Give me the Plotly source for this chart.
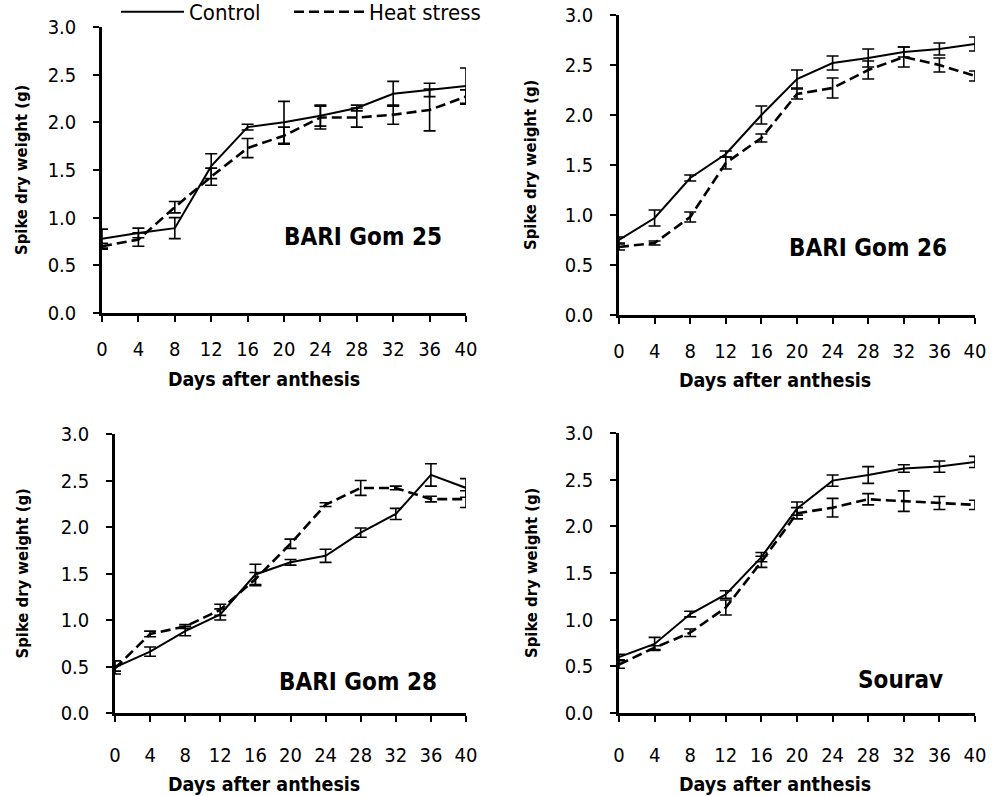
import plotly.graph_objects as go

days = [0, 4, 8, 12, 16, 20, 24, 28, 32, 36, 40]
x_ticks = [0, 4, 8, 12, 16, 20, 24, 28, 32, 36, 40]
y_ticks = [0.0, 0.5, 1.0, 1.5, 2.0, 2.5, 3.0]

panel_names = ["BARI Gom 25", "BARI Gom 26", "BARI Gom 28", "Sourav"]

# BARI Gom 25
g25_control = [0.78, 0.84, 0.89, 1.54, 1.95, 2.00, 2.07, 2.15, 2.30, 2.34, 2.38]
g25_control_err = [0.10, 0.05, 0.11, 0.13, 0.03, 0.22, 0.11, 0.03, 0.13, 0.07, 0.19]
g25_heat = [0.70, 0.77, 1.11, 1.43, 1.73, 1.86, 2.05, 2.05, 2.08, 2.13, 2.27]
g25_heat_err = [0.03, 0.07, 0.06, 0.09, 0.10, 0.09, 0.12, 0.10, 0.10, 0.22, 0.07]

# BARI Gom 26
g26_control = [0.75, 0.97, 1.37, 1.61, 2.00, 2.36, 2.52, 2.57, 2.63, 2.66, 2.71]
g26_control_err = [0.03, 0.08, 0.03, 0.03, 0.09, 0.09, 0.07, 0.09, 0.05, 0.06, 0.07]
g26_heat = [0.68, 0.72, 0.98, 1.52, 1.77, 2.21, 2.27, 2.45, 2.58, 2.50, 2.39]
g26_heat_err = [0.03, 0.02, 0.05, 0.06, 0.04, 0.05, 0.10, 0.09, 0.10, 0.07, 0.05]

# BARI Gom 28
g28_control = [0.49, 0.66, 0.88, 1.06, 1.49, 1.62, 1.69, 1.94, 2.14, 2.56, 2.42]
g28_control_err = [0.07, 0.05, 0.05, 0.06, 0.11, 0.03, 0.07, 0.05, 0.06, 0.12, 0.10]
g28_heat = [0.48, 0.85, 0.93, 1.11, 1.44, 1.82, 2.24, 2.42, 2.42, 2.30, 2.30]
g28_heat_err = [0.03, 0.03, 0.02, 0.06, 0.07, 0.05, 0.02, 0.08, 0.02, 0.03, 0.09]

# Sourav
sou_control = [0.60, 0.74, 1.06, 1.27, 1.67, 2.19, 2.49, 2.55, 2.62, 2.64, 2.69]
sou_control_err = [0.03, 0.07, 0.03, 0.04, 0.05, 0.07, 0.06, 0.09, 0.04, 0.06, 0.06]
sou_heat = [0.52, 0.70, 0.86, 1.13, 1.62, 2.14, 2.20, 2.29, 2.27, 2.25, 2.23]
sou_heat_err = [0.04, 0.02, 0.04, 0.08, 0.06, 0.06, 0.10, 0.06, 0.11, 0.07, 0.05]

panels = [
    (g25_control, g25_control_err, g25_heat, g25_heat_err),
    (g26_control, g26_control_err, g26_heat, g26_heat_err),
    (g28_control, g28_control_err, g28_heat, g28_heat_err),
    (sou_control, sou_control_err, sou_heat, sou_heat_err),
]

W, H = 995, 796
FONT = "DejaVu Sans Condensed, DejaVu Sans, sans-serif"

# plot-area boxes in pixels, order TL, TR, BL, BR: (x0, x1, ytop, ybottom)
boxes = [(102, 466, 27, 313), (619, 975, 15, 315), (115, 466, 434, 713), (619, 975, 433, 713)]
ytitle_x = [22, 531, 22, 531]
xlabel_standoff = [10, 10, 16, 16]
xtitle_offset = [66, 66, 71, 71]
xtitle_cx = [264, 775, 264, 775]

fig = go.Figure()
layout = dict(width=W, height=H, margin=dict(l=0, r=0, t=0, b=0, autoexpand=False),
              plot_bgcolor="white", paper_bgcolor="white",
              font=dict(family=FONT, color="black", size=20))

annotations = []
for i, ((c, ce, h, he), (x0, x1, yt, yb)) in enumerate(zip(panels, boxes)):
    n = "" if i == 0 else str(i + 1)
    xa, ya = "x" + n, "y" + n
    fig.add_trace(go.Scatter(
        x=days, y=c, mode="lines", name="Control", xaxis=xa, yaxis=ya,
        line=dict(color="black", width=2), showlegend=(i == 0), legend="legend",
        cliponaxis=False,
        error_y=dict(type="data", array=ce, visible=True, color="black", thickness=1.6, width=6)))
    fig.add_trace(go.Scatter(
        x=days, y=h, mode="lines", name="Heat stress", xaxis=xa, yaxis=ya,
        line=dict(color="black", width=2.6, dash="10px,5px"), showlegend=(i == 0), legend="legend2",
        cliponaxis=False,
        error_y=dict(type="data", array=he, visible=True, color="black", thickness=1.6, width=6)))
    axis_common = dict(showline=True, linecolor="black", linewidth=2.5, ticks="outside",
                       tickcolor="black", tickwidth=2, ticklen=6, showgrid=False, zeroline=False,
                       tickfont=dict(family=FONT, size=20, color="black"))
    layout["xaxis" + n] = dict(domain=[x0 / W, x1 / W], range=[0, 40], tickvals=x_ticks,
                               ticklabelstandoff=xlabel_standoff[i], anchor=ya, **axis_common)
    layout["yaxis" + n] = dict(domain=[1 - yb / H, 1 - yt / H], range=[0, 3], tickvals=y_ticks,
                               tickformat=".1f", ticklabelstandoff=13, anchor=xa, **axis_common)
    # axis titles
    annotations.append(dict(text="<b>Days after anthesis</b>", xref="paper", yref="paper",
                            x=xtitle_cx[i] / W, y=1 - (yb + xtitle_offset[i]) / H, showarrow=False,
                            font=dict(family=FONT, size=19.5), xanchor="center", yanchor="middle"))
    annotations.append(dict(text="<b>Spike dry weight (g)</b>", xref="paper", yref="paper",
                            x=ytitle_x[i] / W, y=1 - ((yt + yb) / 2) / H, showarrow=False, textangle=-90,
                            font=dict(family=FONT, size=16.5), xanchor="center", yanchor="middle"))

label_pos = [(363, 237), (868, 248), (358, 682), (900, 680)]
for name, (lx, ly) in zip(panel_names, label_pos):
    annotations.append(dict(text="<b>" + name + "</b>", xref="paper", yref="paper",
                            x=lx / W, y=1 - ly / H, showarrow=False,
                            font=dict(family=FONT, size=24), xanchor="center", yanchor="middle"))

layout["annotations"] = annotations
legend_common = dict(orientation="h", yanchor="top", xanchor="left",
                     font=dict(family=FONT, size=22), bgcolor="rgba(0,0,0,0)")
layout["legend"] = dict(x=116 / W, y=1 + 9 / H, itemwidth=63, **legend_common)
layout["legend2"] = dict(x=289 / W, y=1 + 9 / H, itemwidth=70, **legend_common)
layout["showlegend"] = True
fig.update_layout(**layout)
fig.write_html("out.html", config={"displayModeBar": False},
               post_script="document.body.style.margin='0';document.body.style.overflow='hidden';")
